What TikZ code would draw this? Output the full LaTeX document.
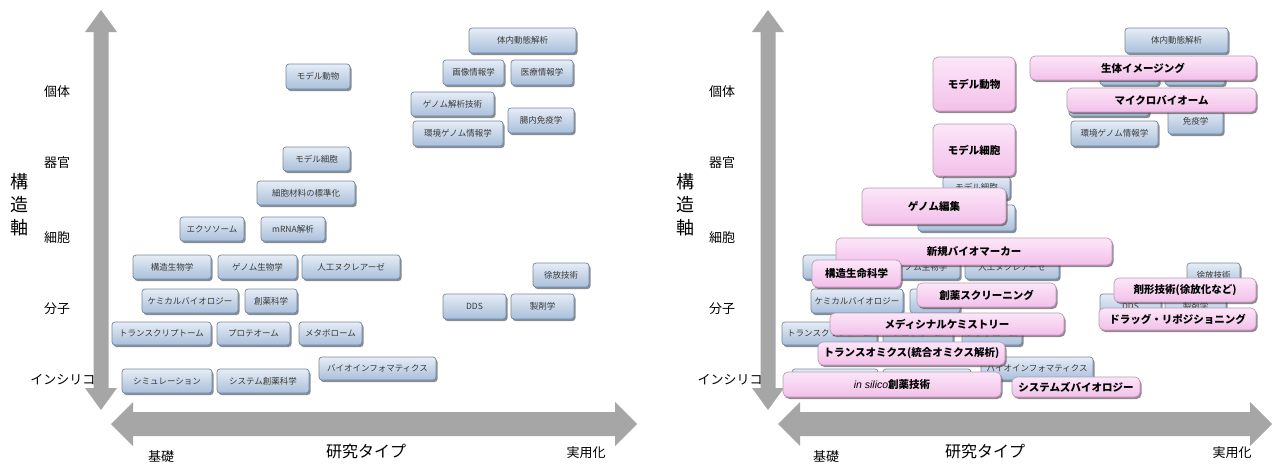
\documentclass[tikz,border=0pt]{standalone}
\usepackage{fontspec}
\setmainfont{Noto Sans CJK JP}
\newfontfamily\latinfont{Liberation Sans}
\usetikzlibrary{shadows}
\definecolor{axisgray}{HTML}{A6A6A6}
\definecolor{bluetop}{HTML}{E6EDF6}
\definecolor{bluebot}{HTML}{A9BFDB}
\definecolor{blueedge}{HTML}{7388A3}
\definecolor{pinktop}{HTML}{FCE6F8}
\definecolor{pinkbot}{HTML}{F3C0EA}
\definecolor{pinkedge}{HTML}{BF98B8}
\definecolor{boxtext}{HTML}{3A3A3A}
\tikzset{
  boxbase/.style={rectangle, line width=0.7pt, inner sep=0pt,
    drop shadow={shadow xshift=1.5pt, shadow yshift=-2pt, opacity=0.6, fill=black!75}},
  bluebox/.style={boxbase, rounded corners=3pt, draw=blueedge, top color=bluetop, bottom color=bluebot,
    text=boxtext, font=\fontsize{8.5}{9}\selectfont},
  pinkbox/.style={boxbase, rounded corners=5pt, draw=pinkedge, top color=pinktop, bottom color=pinkbot,
    text=black, font=\fontsize{10.5}{11}\selectfont\bfseries},
  axisarrow/.style={fill=axisgray, draw=none},
  levellabel/.style={font=\fontsize{13}{14}\selectfont, inner sep=0pt},
  axistitle/.style={font=\fontsize{18}{23}\selectfont, align=center, inner sep=0pt},
  typetitle/.style={font=\fontsize{16}{17}\selectfont, inner sep=0pt},
  endlabel/.style={font=\fontsize{13}{14}\selectfont, inner sep=0pt}
}
\newcommand\bx[7]{\node[#1, minimum width={(#5-#3-2)*1pt}, minimum height={(#6-#4-3)*1pt}] (#2) at ({(#3+#5-2)/2},{(#4+#6-3)/2}) {#7};}
\begin{document}
\begin{tikzpicture}[x=1pt,y=-1pt]
\useasboundingbox[fill=white] (0,0) rectangle (1274,466);

% ---------- LEFT PANEL axes ----------
\fill[axisarrow] (101,10) -- (117,32) -- (108.5,32) -- (108.5,388) -- (117,388) -- (101,410)
  -- (85,388) -- (93.5,388) -- (93.5,32) -- (85,32) -- cycle;
\fill[axisarrow] (111,424) -- (133,402) -- (133,412) -- (615,412) -- (615,402) -- (637,424)
  -- (615,446) -- (615,436) -- (133,436) -- (133,446) -- cycle;

\node[levellabel] (Lkotai) at (57,92) {個体};
\node[levellabel] (Lkikan) at (57,163) {器官};
\node[levellabel] (Lsaibo) at (57,238) {細胞};
\node[levellabel] (Lbunshi) at (57,309) {分子};
\node[levellabel] (Linsilico) at (63,380) {インシリコ};
\node[axistitle] (Laxis) at (19,205) {構\\造\\軸};
\node[endlabel] (Lkiso) at (161,457) {基礎};
\node[typetitle] (Ltype) at (366,451) {研究タイプ};
\node[endlabel] (Ljitsu) at (586,453) {実用化};

% ---------- LEFT PANEL boxes ----------
\bx{bluebox}{Ltainai}{469}{28}{578}{56}{体内動態解析}
\bx{bluebox}{Lgazo}{443}{60}{506}{88}{画像情報学}
\bx{bluebox}{Liryo}{511}{60}{575}{88}{医療情報学}
\bx{bluebox}{Lmdobutsu}{286}{64}{352}{92}{モデル動物}
\bx{bluebox}{Lgenkaiseki}{411}{92}{496}{119}{ゲノム解析技術}
\bx{bluebox}{Lchonai}{508}{108}{576}{136}{腸内免疫学}
\bx{bluebox}{Lkankyo}{413}{121}{505}{149}{環境ゲノム情報学}
\bx{bluebox}{Lmsaibo}{283}{147}{352}{174}{モデル細胞}
\bx{bluebox}{Lhyojun}{257}{181}{357}{208}{細胞材料の標準化}
\bx{bluebox}{Lexo}{180}{217}{246}{244}{エクソソーム}
\bx{bluebox}{Lmrna}{261}{217}{327}{244}{mRNA解析}
\bx{bluebox}{Lkozo}{133}{255}{213}{282}{構造生物学}
\bx{bluebox}{Lgenome}{218}{255}{299}{282}{ゲノム生物学}
\bx{bluebox}{Ljinko}{302}{255}{402}{282}{人工ヌクレアーゼ}
\bx{bluebox}{Ljohou}{533}{263}{591}{290}{徐放技術}
\bx{bluebox}{Lchem}{142}{289}{240}{316}{ケミカルバイオロジー}
\bx{bluebox}{Lsoyaku}{245}{289}{299}{316}{創薬科学}
\bx{bluebox}{Ldds}{443}{294}{508}{322}{DDS}
\bx{bluebox}{Lseizai}{511}{294}{576}{322}{製剤学}
\bx{bluebox}{Ltrans}{112}{322}{213}{348}{トランスクリプトーム}
\bx{bluebox}{Lprot}{217}{322}{292}{348}{プロテオーム}
\bx{bluebox}{Lmeta}{299}{322}{364}{348}{メタボローム}
\bx{bluebox}{Lbioinf}{319}{357}{438}{383}{バイオインフォマティクス}
\bx{bluebox}{Lsim}{122}{369}{214}{396}{シミュレーション}
\bx{bluebox}{Lsys}{217}{369}{311}{396}{システム創薬科学}

% ---------- RIGHT PANEL axes ----------
\fill[axisarrow] (768,10) -- (784,32) -- (775.5,32) -- (775.5,388) -- (784,388) -- (768,410)
  -- (752,388) -- (760.5,388) -- (760.5,32) -- (752,32) -- cycle;
\fill[axisarrow] (778,424) -- (800,402) -- (800,412) -- (1250,412) -- (1250,402) -- (1272,424)
  -- (1250,446) -- (1250,436) -- (800,436) -- (800,446) -- cycle;

\node[levellabel] (Rkotai) at (722,92) {個体};
\node[levellabel] (Rkikan) at (722,163) {器官};
\node[levellabel] (Rsaibo) at (722,238) {細胞};
\node[levellabel] (Rbunshi) at (722,309) {分子};
\node[levellabel] (Rinsilico) at (730,380) {インシリコ};
\node[axistitle] (Raxis) at (685,205) {構\\造\\軸};
\node[endlabel] (Rkiso) at (826,457) {基礎};
\node[typetitle] (Rtype) at (985,451) {研究タイプ};
\node[endlabel] (Rjitsu) at (1232,453) {実用化};

% ---------- RIGHT PANEL blue boxes ----------
\bx{bluebox}{Rtainai}{1125}{28}{1230}{56}{体内動態解析}
\bx{bluebox}{Rgazo}{1100}{60}{1161}{88}{画像情報学}
\bx{bluebox}{Riryo}{1165}{60}{1227}{88}{医療情報学}
\bx{bluebox}{Rgenkaiseki}{1069}{92}{1151}{119}{ゲノム解析技術}
\bx{bluebox}{Rmeneki}{1168}{109}{1225}{137}{免疫学}
\bx{bluebox}{Rkankyo}{1071}{121}{1160}{149}{環境ゲノム情報学}
\bx{bluebox}{Rmsaibo}{943}{176}{1012}{202}{モデル細胞}
\bx{bluebox}{Rhyojun}{918}{205}{1017}{234}{細胞材料の標準化}
\bx{bluebox}{Rkozo}{803}{255}{879}{282}{構造生物学}
\bx{bluebox}{Rgenome}{884}{255}{962}{282}{ゲノム生物学}
\bx{bluebox}{Rjinko}{965}{255}{1061}{282}{人工ヌクレアーゼ}
\bx{bluebox}{Rjohou}{1187}{263}{1242}{290}{徐放技術}
\bx{bluebox}{Rchem}{811}{289}{905}{316}{ケミカルバイオロジー}
\bx{bluebox}{Rsoyaku}{910}{289}{962}{316}{創薬科学}
\bx{bluebox}{Rdds}{1100}{294}{1163}{322}{DDS}
\bx{bluebox}{Rseizai}{1165}{294}{1228}{322}{製剤学}
\bx{bluebox}{Rtrans}{782}{322}{879}{348}{トランスクリプトーム}
\bx{bluebox}{Rprot}{883}{322}{955}{348}{プロテオーム}
\bx{bluebox}{Rmeta}{962}{322}{1024}{348}{メタボローム}
\bx{bluebox}{Rbioinf}{981}{357}{1095}{383}{バイオインフォマティクス}
\bx{bluebox}{Rsim}{792}{369}{880}{396}{シミュレーション}
\bx{bluebox}{Rsys}{883}{369}{973}{396}{システム創薬科学}

% ---------- RIGHT PANEL pink boxes ----------
\bx{pinkbox}{Pdobutsu}{933}{57}{1017}{114}{モデル動物}
\bx{pinkbox}{Psaibo}{933}{124}{1017}{179}{モデル細胞}
\bx{pinkbox}{Pimaging}{1030}{56}{1258}{83}{生体イメージング}
\bx{pinkbox}{Pmicro}{1067}{88}{1258}{115}{マイクロバイオーム}
\bx{pinkbox}{Phenshu}{862}{188}{1008}{227}{ゲノム編集}
\bx{pinkbox}{Pmarker}{836}{238}{1114}{268}{新規バイオマーカー}
\bx{pinkbox}{Pkozo}{812}{260}{903}{290}{構造生命科学}
\bx{pinkbox}{Pscreen}{917}{283}{1058}{310}{創薬スクリーニング}
\bx{pinkbox}{Pzaikei}{1114}{278}{1258}{305}{剤形技術(徐放化など)}
\bx{pinkbox}{Pdrug}{1099}{308}{1258}{333}{ドラッグ・リポジショニング}
\bx{pinkbox}{Pmedchem}{830}{313}{1066}{338}{メディシナルケミストリー}
\bx{pinkbox}{Ptransomics}{818}{342}{1007}{368}{トランスオミクス(統合オミクス解析)}
\bx{pinkbox}{Pinsilico}{783}{372}{1003}{400}{{\latinfont\itshape\mdseries in silico}創薬技術}
\bx{pinkbox}{Psysbio}{1012}{377}{1142}{400}{システムズバイオロジー}
\end{tikzpicture}
\end{document}
